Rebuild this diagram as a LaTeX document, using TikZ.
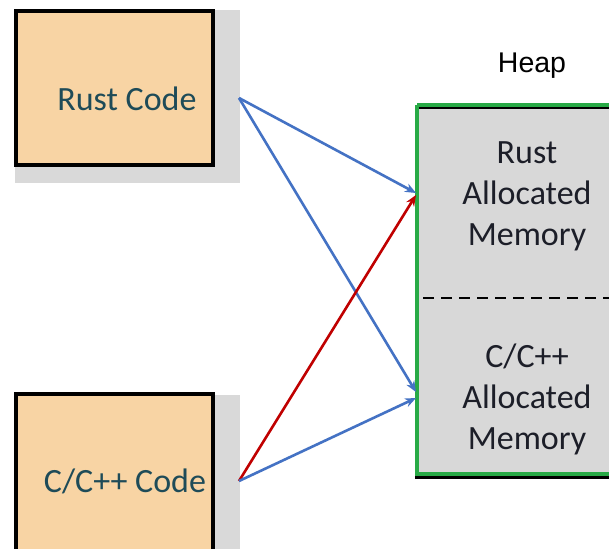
\documentclass[tikz,border=0pt]{standalone}
\usepackage{fontspec}
\setmainfont{Carlito}
\newfontfamily\headfont{Liberation Sans}
\usetikzlibrary{arrows.meta}
\definecolor{peach}{RGB}{248,212,164}
\definecolor{shade}{RGB}{217,217,217}
\definecolor{heapgray}{RGB}{216,216,216}
\definecolor{heapgreen}{RGB}{40,170,70}
\definecolor{tealtext}{RGB}{30,75,88}
\definecolor{darktext}{RGB}{28,30,40}
\definecolor{linkblue}{RGB}{68,114,196}
\definecolor{linkred}{RGB}{192,0,0}
\tikzset{
  shadowbox/.style={fill=shade, draw=none},
  codebox/.style={fill=peach, draw=black, line width=4pt},
  codetext/.style={text=tealtext, font=\fontsize{34}{40}\selectfont, inner sep=0pt},
  memtext/.style={text=darktext, align=center, inner sep=0pt,
    font=\fontsize{34}{41}\selectfont},
  link/.style={line width=2.6pt, -{Stealth[length=11pt,width=9pt]}},
}
\begin{document}
\begin{tikzpicture}[x=1pt,y=-1pt]
\useasboundingbox (0,0) rectangle (609,548);
\fill[white] (0,0) rectangle (609,548);

% Rust code block with its drop shade
\fill[shadowbox] (15,10) rectangle (240,183);
\draw[codebox] (16,11) rectangle (213,165);
\node[codetext] (rust) at (127,99) {Rust Code};

% C/C++ code block, running off the bottom edge
\fill[shadowbox] (15,395) rectangle (240,560);
\draw[codebox] (16,394) rectangle (213,570);
\node[codetext] (ccode) at (125,481) {C/C++ Code};

% Heap region
\node[font=\headfont\fontsize{28.5}{30}\selectfont, inner sep=0pt] (heaplabel) at (532,66) {Heap};
\fill[heapgray] (417,105) rectangle (615,474);
\draw[black, line width=2pt] (419,108.5) -- (615,108.5);
\draw[black, line width=3.5pt] (415,477) -- (615,477);
\draw[heapgreen, line width=4pt] (417,105) -- (615,105)
      (417,105) -- (417,474) -- (615,474);
\draw[black, line width=2.5pt, dash pattern=on 11pt off 7pt] (423,298) -- (609,298);
\node[memtext] (rustmem) at (527,196) {Rust\\Allocated\\Memory};
\node[memtext] (cmem) at (527,399) {C/C++\\Allocated\\Memory};

% connector end points
\coordinate (rustout) at (239,98);
\coordinate (cout) at (239,481);
\coordinate (rustin) at (416,193);
\coordinate (rustinred) at (416,195);
\coordinate (cin1) at (416,392);
\coordinate (cin2) at (416,398);

\draw[link, linkblue] (rustout) -- (rustin);
\draw[link, linkblue] (rustout) -- (cin1);
\draw[link, linkred] (cout) -- (rustinred);
\draw[link, linkblue] (cout) -- (cin2);
\end{tikzpicture}
\end{document}
